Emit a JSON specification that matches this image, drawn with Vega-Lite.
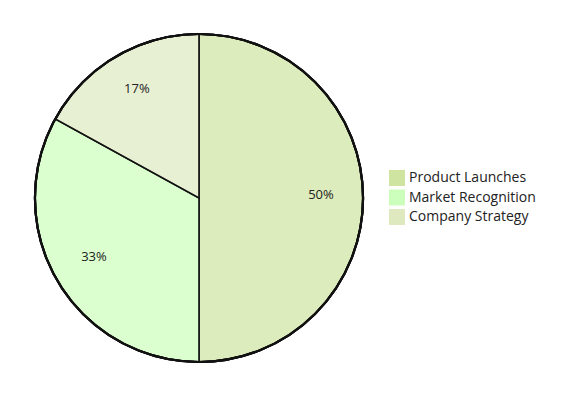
{
  "$schema": "https://vega.github.io/schema/vega-lite/v6.json",
  "width": 398,
  "height": 396,
  "padding": {"left": 0, "top": 0, "right": 186, "bottom": 2},
  "autosize": {"type": "none"},
  "background": "white",
  "config": {"view": {"stroke": null}, "font": "Open Sans"},
  "data": {"values": [
    {"category": "Product Launches", "value": 50, "label": "50%", "order": 1},
    {"category": "Market Recognition", "value": 33, "label": "33%", "order": 2},
    {"category": "Company Strategy", "value": 17, "label": "17%", "order": 3}
  ]},
  "resolve": {"scale": {"theta": "independent"}},
  "layer": [
    {
      "mark": {"type": "arc", "outerRadius": 164, "stroke": "#111", "strokeWidth": 1.5, "fillOpacity": 0.7},
      "encoding": {
        "theta": {"field": "value", "type": "quantitative", "stack": true},
        "order": {"field": "order", "type": "quantitative"},
        "color": {
          "field": "category", "type": "nominal",
          "sort": ["Product Launches", "Market Recognition", "Company Strategy"],
          "scale": {"domain": ["Product Launches", "Market Recognition", "Company Strategy"], "range": ["#cfe4a0", "#ccffbb", "#dee9c0"]},
          "legend": {
            "title": null, "orient": "none", "legendX": 389, "legendY": 170,
            "symbolType": "square", "symbolSize": 256, "symbolStrokeWidth": 0, "symbolOpacity": 1,
            "labelFontSize": 14, "labelColor": "#222", "labelFont": "Open Sans",
            "rowPadding": 3.5, "labelOffset": 4, "labelLimit": 300
          }
        }
      }
    },
    {
      "mark": {"type": "arc", "outerRadius": 164, "stroke": "#111", "strokeWidth": 2.2, "fill": null, "fillOpacity": 0},
      "encoding": {"theta": {"datum": 1, "type": "quantitative", "stack": null, "scale": {"domain": [0, 1]}}}
    },
    {
      "mark": {"type": "text", "radius": 122, "dy": -3.5, "fontSize": 13, "color": "#222"},
      "encoding": {
        "theta": {"field": "value", "type": "quantitative", "stack": true},
        "order": {"field": "order", "type": "quantitative"},
        "text": {"field": "label"}
      }
    }
  ]
}
